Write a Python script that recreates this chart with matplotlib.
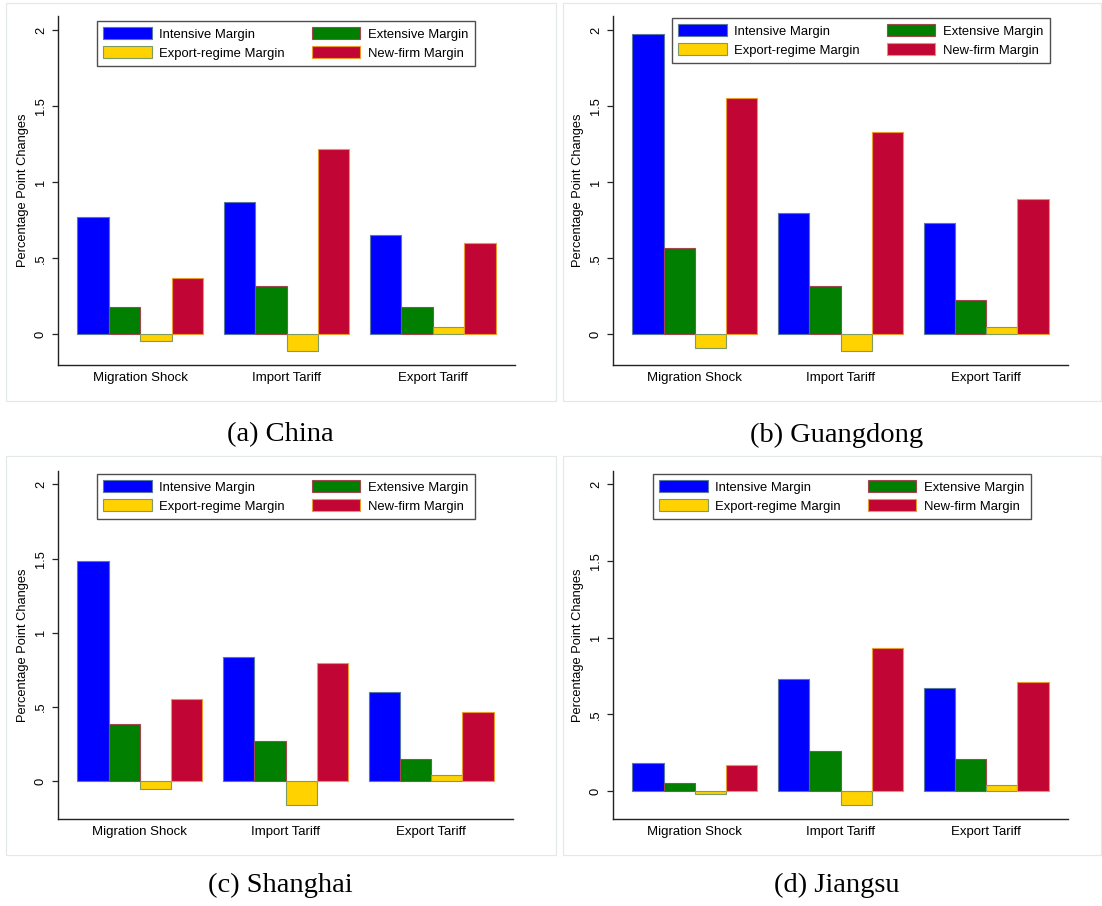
import numpy as np
import matplotlib
matplotlib.use('Agg')
import matplotlib.pyplot as plt
from matplotlib.patches import Rectangle

plt.rcParams['font.family'] = ['Liberation Sans', 'DejaVu Sans']

W, H = 1102, 906

shocks = ['Migration Shock', 'Import Tariff', 'Export Tariff']
margins = ['Intensive Margin', 'Extensive Margin', 'Export-regime Margin', 'New-firm Margin']
regions = ['(a) China', '(b) Guangdong', '(c) Shanghai', '(d) Jiangsu']

# values per region, order: migration shock, import tariff, export tariff
china_intensive = [0.77, 0.87, 0.65]
china_extensive = [0.18, 0.32, 0.18]
china_regime = [-0.042, -0.112, 0.05]
china_newfirm = [0.368, 1.219, 0.599]

guangdong_intensive = [1.974, 0.80, 0.73]
guangdong_extensive = [0.57, 0.32, 0.228]
guangdong_regime = [-0.092, -0.112, 0.05]
guangdong_newfirm = [1.55, 1.329, 0.888]

shanghai_intensive = [1.482, 0.84, 0.60]
shanghai_extensive = [0.383, 0.271, 0.15]
shanghai_regime = [-0.05, -0.159, 0.04]
shanghai_newfirm = [0.551, 0.80, 0.468]

jiangsu_intensive = [0.18, 0.73, 0.671]
jiangsu_extensive = [0.052, 0.26, 0.208]
jiangsu_regime = [-0.022, -0.091, 0.041]
jiangsu_newfirm = [0.169, 0.93, 0.71]

data = [
    [china_intensive, china_extensive, china_regime, china_newfirm],
    [guangdong_intensive, guangdong_extensive, guangdong_regime, guangdong_newfirm],
    [shanghai_intensive, shanghai_extensive, shanghai_regime, shanghai_newfirm],
    [jiangsu_intensive, jiangsu_extensive, jiangsu_regime, jiangsu_newfirm],
]

fill_colors = ['#0000ff', '#007f00', '#ffd200', '#c10534']
edge_colors = ['#5a78a0', '#a04850', '#7d9b62', '#eb9a30']

# layout in pixels: (left, right, top, bottom) of axes, ylim, legend box left/top
axes_px = [
    (58, 515, 16, 365, (-0.202, 2.092), (97, 21)),
    (613, 1068, 16, 365, (-0.202, 2.092), (672, 18)),
    (58, 513, 471, 819, (-0.254, 2.09), (97, 474)),
    (613, 1068, 471, 819, (-0.182, 2.087), (653, 474)),
]
frames_px = [(6, 556, 3, 401), (563, 1101, 3, 401), (6, 556, 456, 855), (563, 1101, 456, 855)]
captions_px = [(280, 435), (837, 435), (280, 885), (837, 885)]

fig = plt.figure(figsize=(W / 100, H / 100), dpi=100)

for (x0, x1, y0, y1) in frames_px:
    fig.patches.append(Rectangle((x0 / W, 1 - y1 / H), (x1 - x0) / W, (y1 - y0) / H,
                                 transform=fig.transFigure, fill=False,
                                 edgecolor='#e3e9e7', linewidth=0.9))

x = np.arange(len(shocks))
bw = 0.2146
offsets = [-1.5, -0.5, 0.5, 1.5]

for k in range(4):
    l, r, t, b, ylim, (lx, ly) = axes_px[k]
    ax = fig.add_axes([l / W, 1 - b / H, (r - l) / W, (b - t) / H])
    bars = []
    for i in range(4):
        bars.append(ax.bar(x + offsets[i] * bw, data[k][i], width=bw, color=fill_colors[i],
                           edgecolor=edge_colors[i], linewidth=0.8, label=margins[i]))
    ax.set_xlim(-0.562, 2.562)
    ax.set_ylim(*ylim)
    ax.set_xticks(x)
    ax.set_xticklabels(shocks, fontsize=9.5)
    ax.set_yticks([0, 0.5, 1, 1.5, 2])
    ax.set_yticklabels(['0', '.5', '1', '1.5', '2'], fontsize=9.3)
    for lab in ax.get_yticklabels():
        lab.set_rotation(90)
        lab.set_va('center')
    ax.tick_params(axis='x', length=0, pad=5)
    ax.tick_params(axis='y', length=4, width=0.9, pad=4, color='#222222')
    ax.set_ylabel('Percentage Point Changes', fontsize=9.3, labelpad=4)
    for s in ['top', 'right']:
        ax.spines[s].set_visible(False)
    for s in ['left', 'bottom']:
        ax.spines[s].set_linewidth(1.0)
        ax.spines[s].set_color('#222222')

    # legend fills column-wise, so reorder to get row-wise layout
    order = [0, 2, 1, 3]
    leg = ax.legend([bars[i] for i in order], [margins[i] for i in order],
                    ncol=2, loc='upper left',
                    bbox_to_anchor=((lx - l) / (r - l), (b - ly) / (b - t)),
                    fontsize=9.4, frameon=True, fancybox=False, borderaxespad=0,
                    handlelength=3.7, handleheight=1.0, handletextpad=0.6,
                    columnspacing=2.05, labelspacing=0.45, borderpad=0.48)
    leg.get_frame().set_edgecolor('#222222')
    leg.get_frame().set_linewidth(1.0)

    cx, cy = captions_px[k]
    fig.text(cx / W, 1 - cy / H, regions[k], ha='center', va='center',
             fontsize=20.5, family='Liberation Serif')

fig.savefig('out.png', dpi=100)
